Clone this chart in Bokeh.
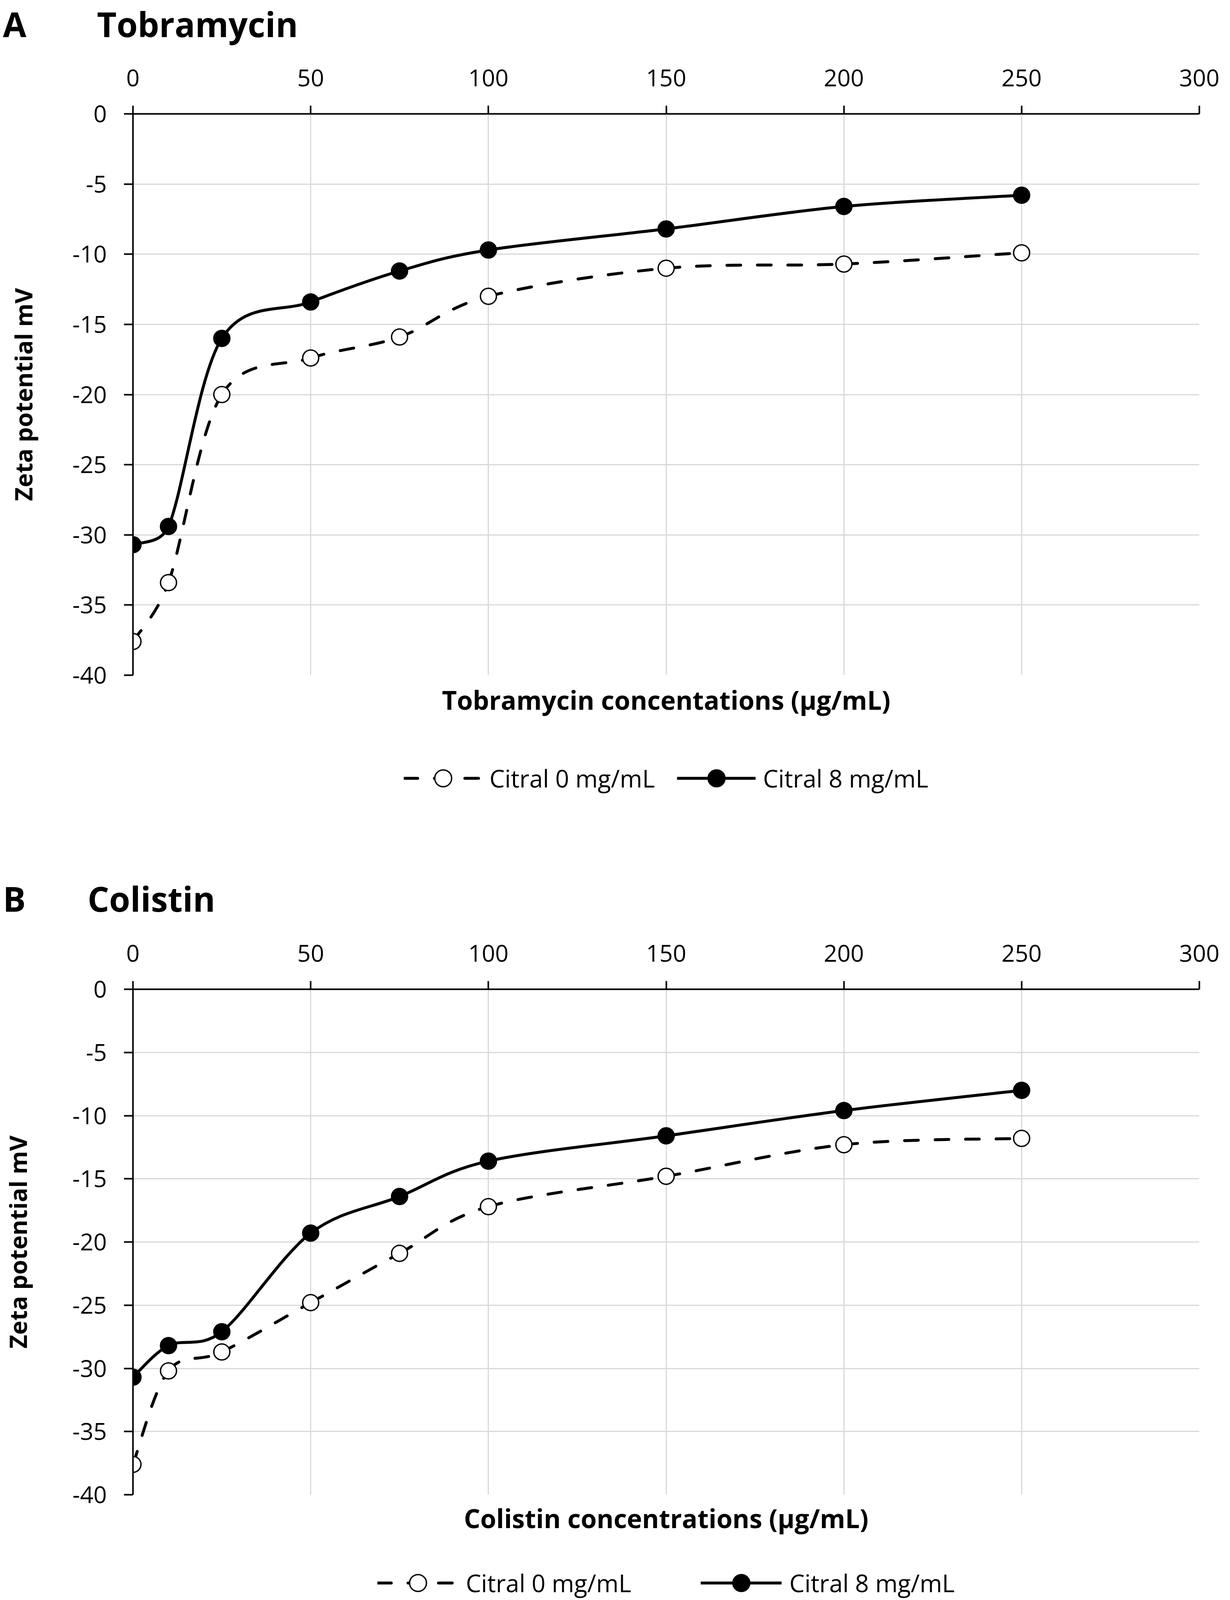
import math
from bokeh.plotting import figure
from bokeh.models import Range1d, FixedTicker, Legend, LegendItem, ColumnDataSource, Title
from bokeh.layouts import column
from bokeh.embed import file_html
from bokeh.resources import INLINE

# ---------------- data ----------------
conc = [0, 10, 25, 50, 75, 100, 150, 200, 250]
tobra_citral0 = [-37.6, -33.4, -20.0, -17.4, -15.9, -13.0, -11.0, -10.7, -9.9]
tobra_citral8 = [-30.7, -29.4, -16.0, -13.4, -11.2, -9.7, -8.2, -6.6, -5.8]
coli_citral0 = [-37.6, -30.2, -28.7, -24.8, -20.9, -17.2, -14.8, -12.3, -11.8]
coli_citral8 = [-30.7, -28.2, -27.1, -19.3, -16.4, -13.6, -11.6, -9.6, -8.0]

x_ticks = [0, 50, 100, 150, 200, 250, 300]
y_ticks = [0, -5, -10, -15, -20, -25, -30, -35, -40]
series_labels = ["Citral 0 mg/mL", "Citral 8 mg/mL"]

FONT = "Open Sans"
W = 3134
FRAME_L, FRAME_R = 333, 3071
DASH = "35 43"
NBSP = "\u00a0"
LW = 7.5


def smooth_segments(xs, ys, kx, ky):
    """Excel-like smoothed line: cubic Bezier control points (computed in screen scale)."""
    pts = [(x * kx, y * ky) for x, y in zip(xs, ys)]
    n = len(pts)
    out = dict(x0=[], y0=[], x1=[], y1=[], cx0=[], cy0=[], cx1=[], cy1=[])
    d = lambda a, b: math.hypot(a[0] - b[0], a[1] - b[1])
    for i in range(n - 1):
        p0 = pts[i - 1] if i > 0 else pts[i]
        p1, p2 = pts[i], pts[i + 1]
        p3 = pts[i + 2] if i + 2 < n else pts[i + 1]
        d12, d02, d13 = d(p1, p2), d(p0, p2), d(p1, p3)
        f1 = 1 / 6 if d02 / 6 < d12 / 2 else d12 / (2 * d02)
        f2 = 1 / 6 if d13 / 6 < d12 / 2 else d12 / (2 * d13)
        c1 = (p1[0] + f1 * (p2[0] - p0[0]), p1[1] + f1 * (p2[1] - p0[1]))
        c2 = (p2[0] - f2 * (p3[0] - p1[0]), p2[1] - f2 * (p3[1] - p1[1]))
        out["x0"].append(p1[0] / kx); out["y0"].append(p1[1] / ky)
        out["x1"].append(p2[0] / kx); out["y1"].append(p2[1] / ky)
        out["cx0"].append(c1[0] / kx); out["cy0"].append(c1[1] / ky)
        out["cx1"].append(c2[0] / kx); out["cy1"].append(c2[1] / ky)
    return out


def blank(height, top=0, bottom=0):
    f = figure(width=W, height=height, x_range=Range1d(0, 1), y_range=Range1d(0, 1),
               x_axis_type=None, y_axis_type=None, output_backend="svg", toolbar_location=None,
               min_border_left=FRAME_L, min_border_right=W - FRAME_R,
               min_border_top=top, min_border_bottom=bottom)
    f.outline_line_color = None
    f.background_fill_color = "white"
    f.border_fill_color = "white"
    f.xgrid.visible = False
    f.ygrid.visible = False
    return f


def header(height, top, heading, standoff):
    h = blank(height, top=top)
    h.add_layout(Title(text=heading, align="left", offset=-333, vertical_align="bottom",
                       standoff=standoff, text_font=FONT, text_font_size="87px",
                       text_font_style="bold", text_color="black"), "above")
    return h


def footer(height, s0, s8, cfg):
    f = blank(height)
    # hidden renderers carrying the series, used only as legend samples
    l0 = f.line(conc, s0, line_color="black", line_width=LW, line_dash=DASH, line_cap="round", visible=False)
    m0 = f.scatter(conc, s0, marker="circle", fill_color="white", line_color="black", line_width=3.5, visible=False)
    l8 = f.line(conc, s8, line_color="black", line_width=LW, line_cap="round", visible=False)
    m8 = f.scatter(conc, s8, marker="circle", fill_color="black", line_color="black", line_width=3.5, visible=False)
    legend = Legend(items=[LegendItem(label=series_labels[0], renderers=[l0, m0]),
                           LegendItem(label=series_labels[1], renderers=[l8, m8])],
                    orientation="horizontal", location="center",
                    padding=0, margin=0, spacing=cfg["leg_spacing"], label_standoff=cfg["leg_standoff"],
                    glyph_width=cfg["glyph_w"], glyph_height=108,
                    label_text_font=FONT, label_text_font_size="62px", label_text_color="black",
                    border_line_color=None, background_fill_alpha=0, inactive_fill_alpha=0)
    f.add_layout(legend)
    return f


def panel(height, top, bottom, xtitle, s0, s8, cfg):
    p = figure(width=W, height=height, x_range=Range1d(0, 300), y_range=Range1d(-40, 0),
               x_axis_location="above", output_backend="svg", toolbar_location=None,
               min_border_left=FRAME_L, min_border_right=W - FRAME_R,
               min_border_top=top, min_border_bottom=bottom)
    p.outline_line_color = None
    p.background_fill_color = "white"
    p.border_fill_color = "white"

    frame_h = height - top - bottom
    kx = (FRAME_R - FRAME_L) / 300.0
    ky = frame_h / 40.0

    for ax, ticks, tick_out, standoff in ((p.xaxis[0], x_ticks, 21, 50), (p.yaxis[0], y_ticks, 23, 44)):
        ax.ticker = FixedTicker(ticks=ticks)
        ax.axis_line_color = "black"
        ax.axis_line_width = 4
        ax.major_tick_line_color = "black"
        ax.major_tick_line_width = 4
        ax.major_tick_out = tick_out
        ax.major_tick_in = 0
        ax.minor_tick_out = 0
        ax.minor_tick_in = 0
        ax.major_label_text_font = FONT
        ax.major_label_text_font_size = "60px"
        ax.major_label_text_color = "black"
        ax.major_label_standoff = standoff
        ax.major_label_overrides = {t: str(t) for t in ticks}

    yax = p.yaxis[0]
    yax.axis_label = "Zeta potential mV"
    yax.axis_label_text_font = FONT
    yax.axis_label_text_font_size = "61px"
    yax.axis_label_text_font_style = "bold"
    yax.axis_label_text_color = "black"
    yax.axis_label_standoff = cfg["yt_standoff"]

    for g in (p.xgrid[0], p.ygrid[0]):
        g.grid_line_color = "#d9d9d9"
        g.grid_line_width = 3

    s0_src = ColumnDataSource(smooth_segments(conc, s0, kx, ky))
    s8_src = ColumnDataSource(smooth_segments(conc, s8, kx, ky))
    p.bezier(x0="x0", y0="y0", x1="x1", y1="y1", cx0="cx0", cy0="cy0", cx1="cx1", cy1="cy1",
             source=s0_src, line_color="black", line_width=LW, line_dash=DASH, line_cap="round")
    p.scatter(conc, s0, marker="circle", size=41, fill_color="white", line_color="black", line_width=3.5)
    p.bezier(x0="x0", y0="y0", x1="x1", y1="y1", cx0="cx0", cy0="cy0", cx1="cx1", cy1="cy1",
             source=s8_src, line_color="black", line_width=LW, line_cap="round")
    p.scatter(conc, s8, marker="circle", size=41, fill_color="black", line_color="black", line_width=3.5)

    # x-axis title below the plot area
    p.add_layout(Title(text=xtitle, align="center", vertical_align="top", standoff=cfg["xt_standoff"],
                       text_font=FONT, text_font_size="66px", text_font_style="bold",
                       text_color="black"), "below")
    return p


hA = header(125, 117, "A" + NBSP * 8 + "Tobramycin", -4)
pA = panel(1763, 166, 160, "Tobramycin concentations (µg/mL)", tobra_citral0, tobra_citral8,
           dict(yt_standoff=82, xt_standoff=35))
fA = footer(208, tobra_citral0, tobra_citral8, dict(leg_spacing=57, leg_standoff=19, glyph_w=201))
hB = header(266, 262, "B" + NBSP * 7 + "Colistin", 0)
pB = panel(1606, 170, 142, "Colistin concentrations (µg/mL)", coli_citral0, coli_citral8,
           dict(yt_standoff=96, xt_standoff=29))
fB = footer(168, coli_citral0, coli_citral8, dict(leg_spacing=178, leg_standoff=20, glyph_w=207))

layout = column(hA, pA, fA, hB, pB, fB)
open("out.html", "w").write(file_html(layout, INLINE))
